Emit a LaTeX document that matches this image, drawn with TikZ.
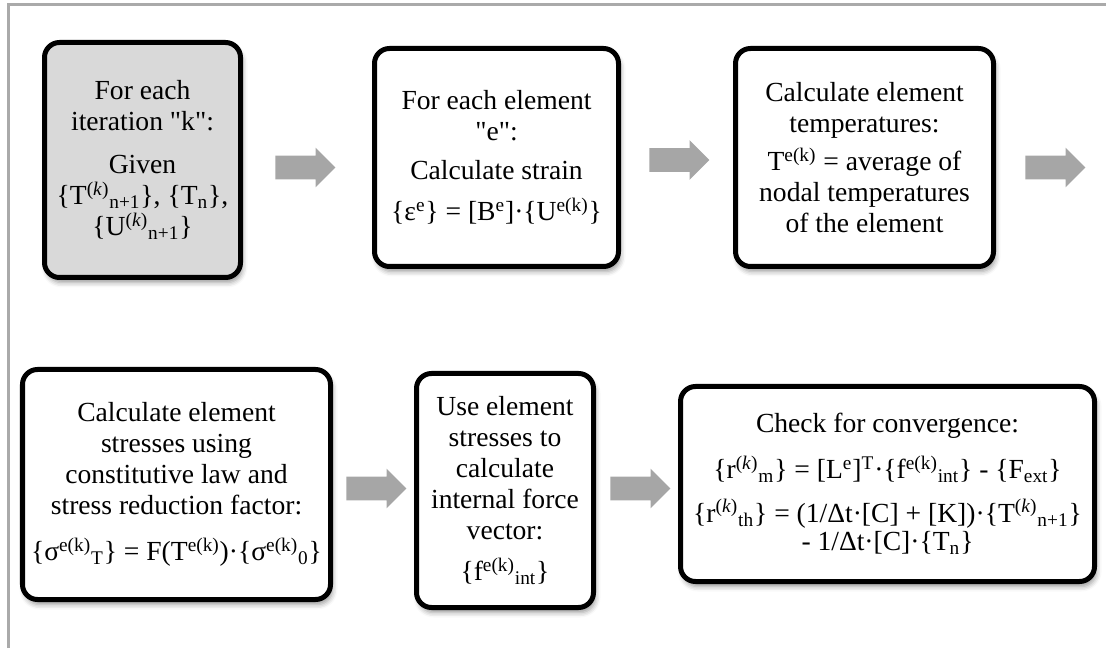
\documentclass[tikz,border=0pt]{standalone}
\usepackage{fontspec}
\setmainfont{Liberation Serif}[Ligatures=TeXOff]
\usepackage{tikz}
\usetikzlibrary{shapes.arrows, shadows.blur, positioning}

\definecolor{arrowgray}{RGB}{166,166,166}
\definecolor{boxgray}{RGB}{217,217,217}
\definecolor{framegray}{RGB}{170,170,170}

\newcommand{\up}[1]{\textsuperscript{#1}}
\newcommand{\dn}[1]{\textsubscript{#1}}

\begin{document}
\begin{tikzpicture}[
    stepbox/.style={draw, rounded corners=0.3cm, line width=0.1cm, align=center, fill=white,
        font=\fontsize{15.7}{17.6}\selectfont,
        blur shadow={shadow xshift=0.04cm, shadow yshift=-0.1cm, shadow blur radius=0.1cm, shadow opacity=40}},
    flowarrow/.style={single arrow, draw=none, fill=arrowgray, minimum height=1.2cm,
        single arrow head extend=0.16cm, inner xsep=0pt, inner ysep=0.23cm, anchor=tail}]
    \useasboundingbox (0,0) rectangle (22.12,12.96);

    % Frame
    \draw[framegray, line width=0.06cm] (0.16,0) -- (0.16,12.86) -- (22.12,12.86);

    % Top row
    \node[stepbox, fill=boxgray, minimum width=3.92cm, minimum height=4.70cm] (iter) at (2.85, 9.76)
        {For each\\ iteration "k":\\[0.24cm] Given\\ \{T\up{(\textit{k})}\dn{n+1}\}, \{T\dn{n}\},\\ \{U\up{(\textit{k})}\dn{n+1}\}};
    \node[stepbox, minimum width=4.88cm, minimum height=4.36cm] (strain) at (9.93, 9.81)
        {For each element\\ "e":\\[0.16cm] Calculate strain\\[0.2cm] \{ε\up{e}\} = [B\up{e}]·\{U\up{e(k)}\}};
    \node[stepbox, minimum width=5.16cm, minimum height=4.36cm] (temp) at (17.29, 9.81)
        {Calculate element\\ temperatures:\\[0.16cm] T\up{e(k)} = average of\\ nodal temperatures\\ of the element};

    % Bottom row
    \node[stepbox, minimum width=6.16cm, minimum height=4.60cm] (stress) at (3.53, 3.27)
        {Calculate element\\ stresses using\\ constitutive law and\\ stress reduction factor:\\[0.3cm] \{σ\up{e(k)}\dn{T}\} = F(T\up{e(k)})·\{σ\up{e(k)}\dn{0}\}};
    \node[stepbox, minimum width=3.54cm, minimum height=4.68cm] (force) at (10.10, 3.15)
        {Use element\\ stresses to\\ calculate\\ internal force\\ vector:\\[0.2cm] \{f\up{e(k)}\dn{int}\}};
    \node[stepbox, minimum width=8.28cm, minimum height=3.90cm] (conv) at (17.75, 3.28)
        {Check for convergence:\\[0.3cm] \{r\up{(\textit{k})}\dn{m}\} = [L\up{e}]\up{T}·\{f\up{e(k)}\dn{int}\} - \{F\dn{ext}\}\\[0.25cm]
         \{r\up{(\textit{k})}\dn{th}\} = (1/Δt·[C] + [K])·\{T\up{(\textit{k})}\dn{n+1}\}\\[-0.04cm] - 1/Δt·[C]·\{T\dn{n}\}};

    % Block arrows
    \node[flowarrow] (arr1) at (5.50, 9.61) {};
    \node[flowarrow] (arr2) at (12.98, 9.76) {};
    \node[flowarrow] (arr3) at (20.50, 9.61) {};
    \node[flowarrow] (arr4) at (6.92, 3.19) {};
    \node[flowarrow] (arr5) at (12.20, 3.19) {};
\end{tikzpicture}
\end{document}
